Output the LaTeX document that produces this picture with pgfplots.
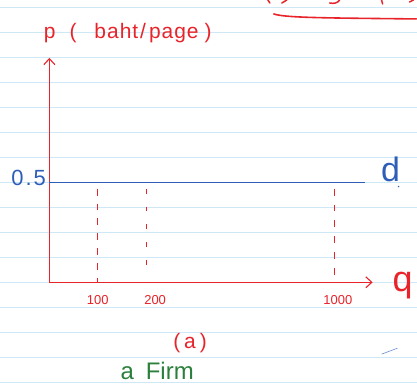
\documentclass[border=0pt]{standalone}
\usepackage{pgfplots}
\pgfplotsset{compat=1.18}
\usepackage{pgfplotstable}
\usetikzlibrary{arrows.meta}
\usepackage{fontspec}
\setmainfont{Liberation Sans}

\definecolor{inkred}{HTML}{E8232A}
\definecolor{inkblue}{HTML}{2E5EB8}
\definecolor{inkgreen}{HTML}{2A7F3A}
\definecolor{ruleblue}{HTML}{CFE8F6}

% demand curve facing the firm: horizontal at the market price
\pgfplotstableread{
q     p
0     0.5
6.52  0.5
}\demand

\newcommand{\fs}[1]{\fontsize{#1}{#1}\selectfont}

\begin{document}
\begin{tikzpicture}[x=1pt,y=1pt]
  % ruled notebook page
  \fill[white] (0,0) rectangle (417,385);
  \foreach \k in {0,...,15}
    \draw[ruleblue, line width=1pt] (0,{377-25*\k}) -- (417,{377-25*\k});
  \useasboundingbox (0,0) rectangle (417,385);

  % underline of the heading above
  \draw[inkred, line width=1.6pt, line cap=round]
    (274,371) .. controls (285,367) and (330,367) .. (417,366);
  \draw[inkred, line width=1.5pt, line cap=round] (268,385) -- (270,382) (282,382) -- (287,385)
    (330,382) .. controls (334,381) and (338,382) .. (340,385) (382,385) -- (383,381) (410,383) -- (414,385);

  \begin{axis}[
      at={(49pt,102pt)}, anchor=south west,
      scale only axis, width=324pt, height=225pt,
      xmin=0, xmax=6.68, ymin=0, ymax=1.125,
      clip=false,
      axis lines=left,
      axis line style={inkred, line width=1.4pt, -{Straight Barb[length=6pt,width=11pt,line width=1.1pt]}},
      major tick length=0pt,
      xtick={1,2,5.9},
      xticklabels={{100},{\hspace*{18pt}200},{\hspace*{6pt}1000}},
      xticklabel style={inkred, font=\fs{13}, yshift=-10pt},
      ytick={0.5},
      yticklabels={0\hspace{2pt}.\hspace{2pt}5},
      yticklabel style={inkblue, font=\fs{22}, yshift=5pt},
    ]
    % quantities 100, 200 and 1000 dropped to the q axis
    \addplot[inkred, line width=1.1pt, dash pattern=on 7pt off 8pt]
      coordinates {(1,0.47) (1,0)};
    \addplot[inkred, line width=1.1pt, dash pattern=on 5pt off 13pt]
      coordinates {(2,0.47) (2,0.03)};
    \addplot[inkred, line width=1.1pt, dash pattern=on 7pt off 9pt]
      coordinates {(5.9,0.47) (5.9,0.02)};
    % demand
    \addplot[inkblue, line width=1.3pt] table[x=q, y=p] {\demand};
  \end{axis}

  % axis names and captions
  \node[inkred, anchor=base west, font=\fs{21}] at (40,346)
    {p\hspace{14pt}(\hspace{18pt}b\hspace{1pt}a\hspace{1pt}h\hspace{1pt}t\hspace{2pt}/\hspace{3pt}p\hspace{1pt}a\hspace{1pt}g\hspace{1pt}e\hspace{6pt})};
  \node[inkblue, anchor=base, font=\fs{34}] at (391,203) {d};
  \fill[inkblue] (399,198) circle (0.8pt);
  \node[inkred, anchor=base, font=\fs{36}] at (403,93) {q};
  \node[inkred, anchor=base, font=\fs{21}] at (190,36) {(\hspace{4pt}a\hspace{4pt})};
  \node[inkgreen, anchor=base, font=\fs{24}] at (157,5) {a\hspace{12pt}Firm};
  \draw[inkblue!70, line width=0.6pt] (382,30) -- (398,36);
\end{tikzpicture}
\end{document}
